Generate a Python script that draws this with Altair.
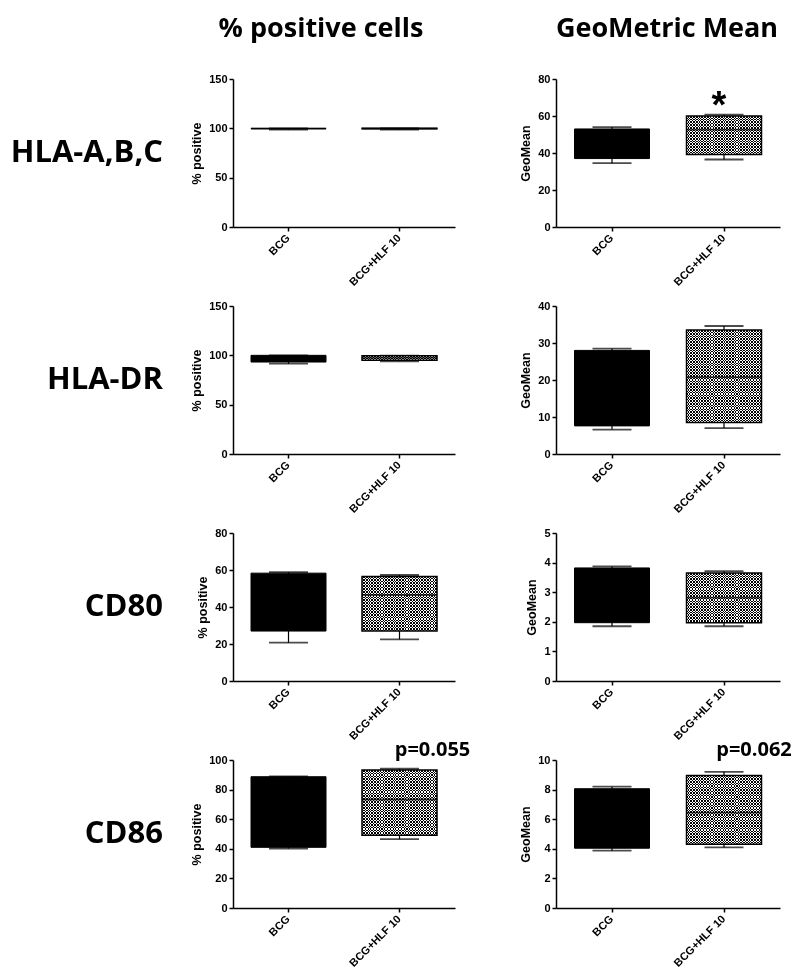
import altair as alt
import pandas as pd

groups = ["BCG", "BCG+HLF 10"]
col_titles = ["% positive cells", "GeoMetric Mean"]
row_labels = ["HLA-A,B,C", "HLA-DR", "CD80", "CD86"]

# [min, q1, median, q3, max]
hla_abc_pos_bcg = [98.6, 99.6, 99.8, 100, 100]
hla_abc_pos_hlf = [98.8, 99.5, 99.8, 100, 100]
hla_abc_geo_bcg = [34.5, 37.0, 45.0, 53.0, 54.0]
hla_abc_geo_hlf = [36.5, 39.2, 52.6, 60.0, 60.7]
hla_dr_pos_bcg = [91.5, 93.2, 97.0, 100, 100]
hla_dr_pos_hlf = [94.0, 95.0, 97.5, 99.5, 99.8]
hla_dr_geo_bcg = [6.6, 7.6, 18.0, 28.0, 28.5]
hla_dr_geo_hlf = [7.0, 8.5, 20.8, 33.5, 34.6]
cd80_pos_bcg = [20.7, 27.0, 45.0, 58.3, 58.8]
cd80_pos_hlf = [22.5, 27.0, 46.5, 56.5, 57.3]
cd80_geo_bcg = [1.85, 1.97, 3.0, 3.82, 3.87]
cd80_geo_hlf = [1.85, 1.97, 2.82, 3.65, 3.71]
cd86_pos_bcg = [40.2, 41.0, 65.0, 88.7, 89.0]
cd86_pos_hlf = [46.5, 49.2, 73.3, 93.3, 94.1]
cd86_geo_bcg = [3.87, 4.04, 6.0, 8.06, 8.2]
cd86_geo_hlf = [4.09, 4.3, 6.45, 8.95, 9.2]

pos_max = [150, 150, 80, 100]
pos_ticks = [[0, 50, 100, 150], [0, 50, 100, 150], [0, 20, 40, 60, 80], [0, 20, 40, 60, 80, 100]]
geo_max = [80, 40, 5, 10]
geo_ticks = [[0, 20, 40, 60, 80], [0, 10, 20, 30, 40], [0, 1, 2, 3, 4, 5], [0, 2, 4, 6, 8, 10]]

# annotations: (row, column, text)
annot_text = ["*", "p=0.055", "p=0.062"]
annot_row = [0, 3, 3]
annot_col = [1, 0, 1]

H = 148
W_LEFT = 222
W_RIGHT = 224
BOX_W = 75
CAP_W = 39
BIG_FONT = "Open Sans"
SMALL_FONT = "Liberation Sans"
PERIOD = 2.8


def stripes(length_px, period, frac, vertical, color):
    n = max(1, round(length_px / period))
    stops = []
    for i in range(n):
        a = i / n
        b = (i + frac) / n
        c = (i + 1) / n
        stops += [
            alt.GradientStop(color=color, offset=a),
            alt.GradientStop(color=color, offset=b),
            alt.GradientStop(color="rgba(0,0,0,0)", offset=b),
            alt.GradientStop(color="rgba(0,0,0,0)", offset=c),
        ]
    if vertical:
        return alt.Gradient(gradient="linear", stops=stops, x1=0, y1=0, x2=0, y2=1)
    return alt.Gradient(gradient="linear", stops=stops, x1=0, y1=0, x2=1, y2=0)


def panel(bcg, hlf, ymax, yvals, ytitle, width, row, col):
    df = pd.DataFrame({
        "group": groups,
        "lo": [bcg[0], hlf[0]],
        "q1": [bcg[1], hlf[1]],
        "med": [bcg[2], hlf[2]],
        "q3": [bcg[3], hlf[3]],
        "hi": [bcg[4], hlf[4]],
    })
    xenc = alt.X("group:N", sort=groups,
                 scale=alt.Scale(domain=groups, paddingInner=0, paddingOuter=0),
                 axis=alt.Axis(title=None, labelAngle=-45, labelAlign="right",
                               labelBaseline="middle", labelPadding=5))
    yscale = alt.Scale(domain=[0, ymax], nice=False, zero=True)
    yaxis = alt.Axis(values=yvals, title=ytitle, titlePadding=5)

    def Y(f):
        return alt.Y(f + ":Q", scale=yscale, axis=yaxis)

    base = alt.Chart(df)
    layers = []
    layers.append(base.mark_rule(color="black", strokeWidth=1.2).encode(
        x=xenc, y=Y("lo"), y2=alt.Y2("hi")))
    layers.append(base.mark_tick(color="black", size=CAP_W, thickness=1.8).encode(
        x=xenc, y=Y("lo")))
    layers.append(base.mark_tick(color="black", size=CAP_W, thickness=1.8).encode(
        x=xenc, y=Y("hi")))
    bb = base.transform_filter(alt.datum.group == groups[0])
    hh = base.transform_filter(alt.datum.group == groups[1])
    layers.append(bb.mark_bar(size=BOX_W, color="black", stroke="black",
                              strokeWidth=1).encode(x=xenc, y=Y("q1"), y2=alt.Y2("q3")))
    box_px = (hlf[3] - hlf[1]) / ymax * H
    # checkerboard: white base, black horizontal stripes, white vertical stripes (difference)
    layers.append(hh.mark_bar(size=BOX_W, color="white").encode(
        x=xenc, y=Y("q1"), y2=alt.Y2("q3")))
    layers.append(hh.mark_bar(size=BOX_W, fill=stripes(box_px, PERIOD, 0.6, True, "black"),
                              strokeWidth=0).encode(x=xenc, y=Y("q1"), y2=alt.Y2("q3")))
    layers.append(hh.mark_bar(size=BOX_W, fill=stripes(BOX_W, PERIOD, 0.4, False, "white"),
                              strokeWidth=0, blend="difference").encode(
        x=xenc, y=Y("q1"), y2=alt.Y2("q3")))
    layers.append(hh.mark_bar(size=BOX_W, fillOpacity=0, stroke="black",
                              strokeWidth=1.5).encode(x=xenc, y=Y("q1"), y2=alt.Y2("q3")))
    layers.append(base.mark_tick(color="black", size=BOX_W, thickness=1.8).encode(
        x=xenc, y=Y("med")))

    # annotations
    for t, r, c in zip(annot_text, annot_row, annot_col):
        if r == row and c == col:
            adf = pd.DataFrame({"group": [groups[1]], "t": [t]})
            if t == "*":
                layers.append(alt.Chart(adf).mark_text(
                    font=SMALL_FONT, fontWeight="bold", fontSize=38, dx=-5,
                    baseline="middle").encode(x=xenc, y=alt.value(28), text="t:N"))
            else:
                layers.append(alt.Chart(adf).mark_text(
                    font=BIG_FONT, fontWeight="bold", fontSize=20,
                    dx=33 if col == 0 else 30,
                    baseline="middle").encode(x=xenc, y=alt.value(-10), text="t:N"))
    if row == 0:
        tdf = pd.DataFrame({"t": [col_titles[col]]})
        layers.append(alt.Chart(tdf).mark_text(
            font=BIG_FONT, fontWeight="bold", fontSize=27, align="center",
            baseline="alphabetic").encode(
            x=alt.value(88 if col == 0 else 111), y=alt.value(-42), text="t:N"))
    if col == 0:
        ldf = pd.DataFrame({"t": [row_labels[row]]})
        layers.append(alt.Chart(ldf).mark_text(
            font=BIG_FONT, fontWeight="bold", fontSize=31, align="right",
            baseline="middle").encode(
            x=alt.value(-70), y=alt.value(H / 2), text="t:N"))
    return alt.layer(*layers).properties(width=width, height=H)


data = [
    (hla_abc_pos_bcg, hla_abc_pos_hlf, hla_abc_geo_bcg, hla_abc_geo_hlf),
    (hla_dr_pos_bcg, hla_dr_pos_hlf, hla_dr_geo_bcg, hla_dr_geo_hlf),
    (cd80_pos_bcg, cd80_pos_hlf, cd80_geo_bcg, cd80_geo_hlf),
    (cd86_pos_bcg, cd86_pos_hlf, cd86_geo_bcg, cd86_geo_hlf),
]

panels = []
for r, (pb, ph, gb, gh) in enumerate(data):
    panels.append(panel(pb, ph, pos_max[r], pos_ticks[r], "% positive", W_LEFT, r, 0))
    panels.append(panel(gb, gh, geo_max[r], geo_ticks[r], "GeoMean", W_RIGHT, r, 1))

chart = alt.concat(*panels, columns=2, spacing={"row": 79, "column": 101},
                   bounds="flush").properties(
    autosize=alt.AutoSizeParams(type="none"),
    padding={"left": 225, "top": 71, "right": 559, "bottom": 889},
).configure_view(strokeWidth=0).configure_axis(
    labelFont=SMALL_FONT, labelFontWeight="bold", labelFontSize=11, labelColor="black",
    titleFont=SMALL_FONT, titleFontWeight="bold", titleFontSize=12.5, titleColor="black",
    domainColor="black", domainWidth=1.5, tickColor="black", tickWidth=1.5, tickSize=4,
    grid=False,
)

chart.save("out.html", embed_options={"renderer": "svg", "actions": False})
